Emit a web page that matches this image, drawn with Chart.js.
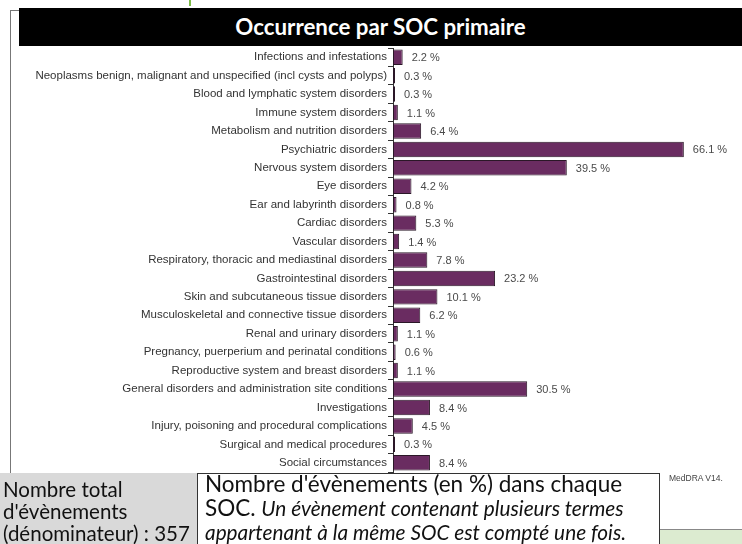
<!DOCTYPE html>
<html>
<head>
<meta charset="utf-8">
<script src="https://cdn.jsdelivr.net/npm/chart.js@4.4.0/dist/chart.umd.min.js"></script>
<style>
    body { margin: 0; width: 742px; height: 544px; background: #fff; position: relative; overflow: hidden; }
    #chartBox { position: absolute; left: 0; top: 0; width: 742px; height: 480px; }
    .frame-v { position: absolute; left: 10px; top: 10px; width: 1px; height: 463px; background: #777; }
    .frame-h { position: absolute; left: 10px; top: 10px; width: 9px; height: 1px; background: #777; }
    .green-tick { position: absolute; left: 189px; top: 0; width: 2px; height: 6px; background: #7dbb4a; }
    #titleBar {
        position: absolute; left: 19px; top: 8px; width: 723px; height: 38px;
        background: #000; color: #fff; font-family: Lato, sans-serif; font-weight: bold;
        font-size: 22.3px; line-height: 38px; text-align: center;
    }
    #totalBox {
        position: absolute; left: 0; top: 473px; width: 197px; height: 71px;
        background: #d9d9d9; font-family: Lato, sans-serif; font-size: 20.5px;
        line-height: 22px; padding: 5px 0 0 3px; box-sizing: border-box; color: #111;
        white-space: nowrap;
    }
    #noteBox {
        position: absolute; left: 197px; top: 473px; width: 463px; height: 80px;
        background: #fff; border: 1px solid #333; font-family: Lato, sans-serif;
        font-size: 22.5px; line-height: 24px; padding: 0 0 0 7px; box-sizing: border-box; color: #111;
        white-space: nowrap;
    }
    #noteBox .txt { margin-top: -2px; }
    #noteBox i { font-size: 20.8px; }
    #meddra { position: absolute; left: 669px; top: 473px; font-family: "Liberation Sans", Arial, sans-serif; font-size: 8.5px; color: #444; }
    .corner-line { position: absolute; left: 660px; top: 529px; width: 82px; height: 1px; background: #888; }
    .corner-fill { position: absolute; left: 660px; top: 530px; width: 82px; height: 14px; background: #dcebd0; }
</style>
</head>
<body>
<div class="green-tick"></div>
<div class="frame-v"></div>
<div class="frame-h"></div>
<div id="chartBox"><canvas id="socChart"></canvas></div>
<div id="titleBar">Occurrence par SOC primaire</div>
<div id="meddra">MedDRA V14.</div>
<div id="totalBox">Nombre total<br>d'évènements<br>(dénominateur) : 357</div>
<div id="noteBox"><div class="txt">Nombre d'évènements (en %) dans chaque<br>SOC. <i>Un évènement contenant plusieurs termes<br>appartenant à la même SOC est compté une fois.</i></div></div>
<div class="corner-line"></div>
<div class="corner-fill"></div>
<script>
// System organ classes, top to bottom
const socLabels = [
    'Infections and infestations',
    'Neoplasms benign, malignant and unspecified (incl cysts and polyps)',
    'Blood and lymphatic system disorders',
    'Immune system disorders',
    'Metabolism and nutrition disorders',
    'Psychiatric disorders',
    'Nervous system disorders',
    'Eye disorders',
    'Ear and labyrinth disorders',
    'Cardiac disorders',
    'Vascular disorders',
    'Respiratory, thoracic and mediastinal disorders',
    'Gastrointestinal disorders',
    'Skin and subcutaneous tissue disorders',
    'Musculoskeletal and connective tissue disorders',
    'Renal and urinary disorders',
    'Pregnancy, puerperium and perinatal conditions',
    'Reproductive system and breast disorders',
    'General disorders and administration site conditions',
    'Investigations',
    'Injury, poisoning and procedural complications',
    'Surgical and medical procedures',
    'Social circumstances'
];

// Occurrence in % of events
const occurrencePct = [
    2.2, 0.3, 0.3, 1.1, 6.4, 66.1, 39.5, 4.2, 0.8, 5.3, 1.4, 7.8,
    23.2, 10.1, 6.2, 1.1, 0.6, 1.1, 30.5, 8.4, 4.5, 0.3, 8.4
];

// Draws "x.x %" to the right of each bar
const valueLabels = {
    id: 'valueLabels',
    afterDatasetsDraw(chart) {
        const ctx = chart.ctx;
        const meta = chart.getDatasetMeta(0);
        ctx.save();
        ctx.font = '11px "Liberation Sans", Arial, sans-serif';
        ctx.fillStyle = '#4a4a4a';
        ctx.textBaseline = 'middle';
        ctx.textAlign = 'left';
        meta.data.forEach((bar, i) => {
            const v = chart.data.datasets[0].data[i];
            ctx.fillText(v.toFixed(1) + ' %', bar.x + 9, bar.y + 1);
        });
        ctx.restore();
    }
};

const ctx = document.getElementById('socChart').getContext('2d');
new Chart(ctx, {
    type: 'bar',
    data: {
        labels: socLabels,
        datasets: [{
            data: occurrencePct,
            backgroundColor: '#6a2c61',
            borderColor: '#2a1727',
            borderWidth: 1,
            borderSkipped: false,
            minBarLength: 2,
            categoryPercentage: 1,
            barPercentage: 0.84
        }]
    },
    options: {
        indexAxis: 'y',
        responsive: true,
        maintainAspectRatio: false,
        animation: false,
        layout: { padding: { top: 48, bottom: 8, left: 0, right: 19 } },
        plugins: {
            legend: { display: false },
            tooltip: { enabled: false }
        },
        scales: {
            x: {
                display: false,
                min: 0,
                max: 75
            },
            y: {
                afterFit: scale => { scale.width = 393; },
                border: { display: true, color: '#333', width: 1 },
                grid: {
                    offset: true,
                    drawOnChartArea: false,
                    drawTicks: true,
                    tickLength: 5,
                    color: '#333'
                },
                ticks: {
                    autoSkip: false,
                    padding: 1,
                    color: '#333',
                    font: { family: '"Liberation Sans", Arial, sans-serif', size: 11.5 }
                }
            }
        }
    },
    plugins: [valueLabels]
});
</script>
</body>
</html>
